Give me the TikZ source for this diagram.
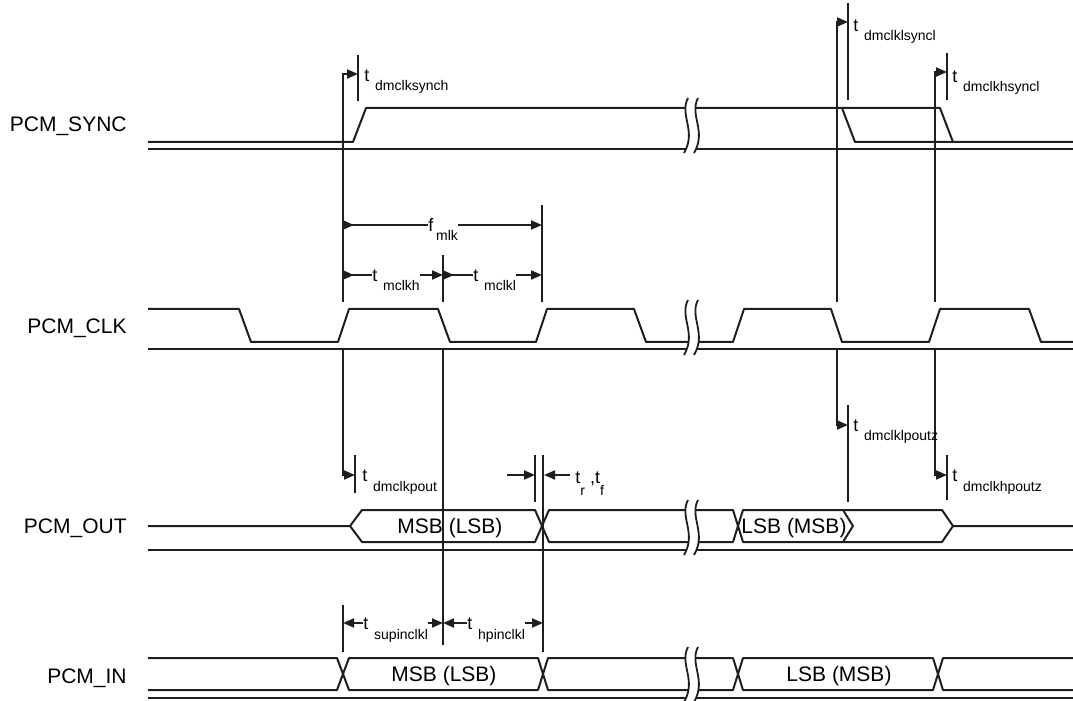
\documentclass[tikz,border=0pt]{standalone}
\usepackage{fontspec}
\setmainfont{Liberation Sans}
\usepackage{tikz}
\usetikzlibrary{arrows.meta, positioning}
\definecolor{wire}{RGB}{30,30,30}
\newcommand{\lowsub}[1]{\raisebox{-6pt}{\fontsize{7}{8}\selectfont #1}}
\tikzset{
  sig/.style={draw=wire, line width=1pt, line join=round},
  guide/.style={draw=wire, line width=1pt},
  dim/.style={draw=wire, line width=1pt, -{Triangle[length=5.5pt,width=4.5pt]}},
  rdim/.style={draw=wire, line width=1pt, {Triangle[length=5.5pt,width=4.5pt,reversed]}-},
  brk/.style={draw=wire, line width=0.9pt},
  signame/.style={anchor=east, font=\fontsize{10.5}{12}\selectfont, inner sep=0pt, text height=7.5pt, text depth=0pt},
  buslbl/.style={font=\fontsize{10.5}{12}\selectfont, inner sep=0pt, text height=7.5pt, text depth=0pt},
  tmain/.style={anchor=west, font=\fontsize{9}{10}\selectfont, inner sep=0pt, text height=6.4pt, text depth=0pt},
  tsub/.style={font=\fontsize{7}{8}\selectfont, inner sep=0pt, text height=5pt, text depth=1.5pt}
}

\begin{document}
\begin{tikzpicture}[x=0.5pt, y=-0.5pt]
  \useasboundingbox (0,0) rectangle (1073,701);

  % signal names
  \node [signame] (nsync) at (127,124) {PCM\_SYNC};
  \node [signame] (nclk) at (127,326) {PCM\_CLK};
  \node [signame] (nout) at (127,526) {PCM\_OUT};
  \node [signame] (nin) at (127,676) {PCM\_IN};

  % PCM_SYNC
  \draw [sig] (148,142) -- (353,142) -- (366,108) -- (940,108) -- (953,142) -- (1073,142);
  \draw [sig] (842,108) -- (855,142) -- (953,142);
  \draw [sig] (148,149) -- (1073,149);

  % PCM_CLK
  \draw [sig] (148,309) -- (239,309) -- (251,342) -- (338,342) -- (349,309) -- (438,309)
    -- (450,342) -- (536,342) -- (547,309) -- (634,309) -- (646,342) -- (733,342)
    -- (744,309) -- (831,309) -- (842,342) -- (929,342) -- (940,309) -- (1029,309)
    -- (1041,342) -- (1073,342);
  \draw [sig] (148,349) -- (1073,349);

  % PCM_OUT
  \draw [sig] (148,526) -- (350,526) -- (362,510) -- (535,510) -- (549,542) -- (733,542)
    -- (743,510) -- (942,510) -- (953,526) -- (1073,526);
  \draw [sig] (350,526) -- (362,542) -- (535,542) -- (549,510) -- (733,510) -- (743,542)
    -- (942,542) -- (953,526);
  \draw [sig] (843,510) -- (853,526) -- (843,542);
  \draw [sig] (148,550) -- (1073,550);

  % PCM_IN
  \draw [sig] (148,658) -- (337,658) -- (349,690) -- (538,690) -- (548,658) -- (733,658)
    -- (743,690) -- (933,690) -- (943,658) -- (1073,658);
  \draw [sig] (148,690) -- (337,690) -- (349,658) -- (538,658) -- (548,690) -- (733,690)
    -- (743,658) -- (933,658) -- (943,690) -- (1073,690);
  \draw [sig] (148,698) -- (1073,698);

  % breaks
  \foreach \y in {125,327,527,674} {
    \fill [white] (688,\y-27) .. controls (679,\y-10) and (697,\y+6) .. (684,\y+28)
      -- (694,\y+28) .. controls (707,\y+6) and (689,\y-10) .. (698,\y-27) -- cycle;
    \draw [brk] (688,\y-27) .. controls (679,\y-10) and (697,\y+6) .. (684,\y+28);
    \draw [brk] (698,\y-27) .. controls (689,\y-10) and (707,\y+6) .. (694,\y+28);
  }

  % guide lines
  \draw [dim] (343,302) |- (358,74);
  \draw [guide] (358,55) -- (358,101);
  \draw [dim] (343,348) |- (355,475);
  \draw [guide] (355,455) -- (355,493);
  \draw [guide] (443,255) -- (443,302);
  \draw [guide] (443,348) -- (443,645);
  \draw [guide] (542,205) -- (542,302);
  \draw [guide] (543,455) -- (543,652);
  \draw [guide] (535,455) -- (535,502);
  \draw [guide] (343,605) -- (343,652);
  \draw [dim] (837,302) |- (848,22);
  \draw [guide] (848,3) -- (848,100);
  \draw [dim] (935,302) |- (947,72);
  \draw [guide] (947,53) -- (947,100);
  \draw [dim] (837,348) |- (848,425);
  \draw [guide] (848,405) -- (848,502);
  \draw [dim] (935,348) |- (947,475);
  \draw [guide] (947,455) -- (947,500);

  % timing labels
  \node [tmain] (tsy) at (364,75) {t};
  \node [tsub, right=2.5pt of tsy, yshift=-6.25pt] (tsysub) {dmclksynch};
  \node [tmain] (tls) at (853,25) {t};
  \node [tsub, right=2.5pt of tls, yshift=-6.25pt] (tlssub) {dmclklsyncl};
  \node [tmain] (ths) at (952,76) {t};
  \node [tsub, right=2.5pt of ths, yshift=-6.25pt] (thssub) {dmclkhsyncl};
  \node [tmain] (fm) at (428,225) {f};
  \node [tsub, right=1pt of fm, yshift=-6.25pt] (fmsub) {mlk};
  \node [tmain] (tch) at (372,275) {t};
  \node [tsub, right=2.5pt of tch, yshift=-6.25pt] (tchsub) {mclkh};
  \node [tmain] (tcl) at (473,275) {t};
  \node [tsub, right=2.5pt of tcl, yshift=-6.25pt] (tclsub) {mclkl};
  \node [tmain] (tpo) at (362,475) {t};
  \node [tsub, right=2.5pt of tpo, yshift=-6.25pt] (tposub) {dmclkpout};
  \node [tmain] (trf) at (575,477) {t\lowsub{r} ,t\lowsub{f}};
  \node [tmain] (tlz) at (853,425) {t};
  \node [tsub, right=2.5pt of tlz, yshift=-6.25pt] (tlzsub) {dmclklpoutz};
  \node [tmain] (thz) at (952,475) {t};
  \node [tsub, right=2.5pt of thz, yshift=-6.25pt] (thzsub) {dmclkhpoutz};
  \node [tmain] (tsu) at (363,623) {t};
  \node [tsub, right=2.5pt of tsu, yshift=-6.25pt] (tsusub) {supinclkl};
  \node [tmain] (thp) at (467,623) {t};
  \node [tsub, right=2.5pt of thp, yshift=-6.25pt] (thpsub) {hpinclkl};

  % dimension arrows
  \draw [rdim] (343,225) -- (fm.west);
  \draw [dim] (fmsub.east |- fm) -- (542,225);
  \draw [rdim] (343,275) -- (tch.west);
  \draw [dim] (tchsub.east |- tch) -- (443,275);
  \draw [rdim] (443,275) -- (tcl.west);
  \draw [dim] (tclsub.east |- tcl) -- (542,275);
  \draw [dim] (507,475) -- (535,475);
  \draw [dim] (570,475) -- (544,475);
  \draw [dim] (tsu.west) -- (343,623);
  \draw [dim] (tsusub.east |- tsu) -- (443,623);
  \draw [dim] (thp.west) -- (443,623);
  \draw [dim] (thpsub.east |- thp) -- (543,623);

  % bus values
  \node [buslbl] (outmsb) at (450,526) {MSB (LSB)};
  \node [buslbl] (outlsb) at (794,526) {LSB (MSB)};
  \node [buslbl] (inmsb) at (444,674) {MSB (LSB)};
  \node [buslbl] (inlsb) at (839,674) {LSB (MSB)};
\end{tikzpicture}
\end{document}
